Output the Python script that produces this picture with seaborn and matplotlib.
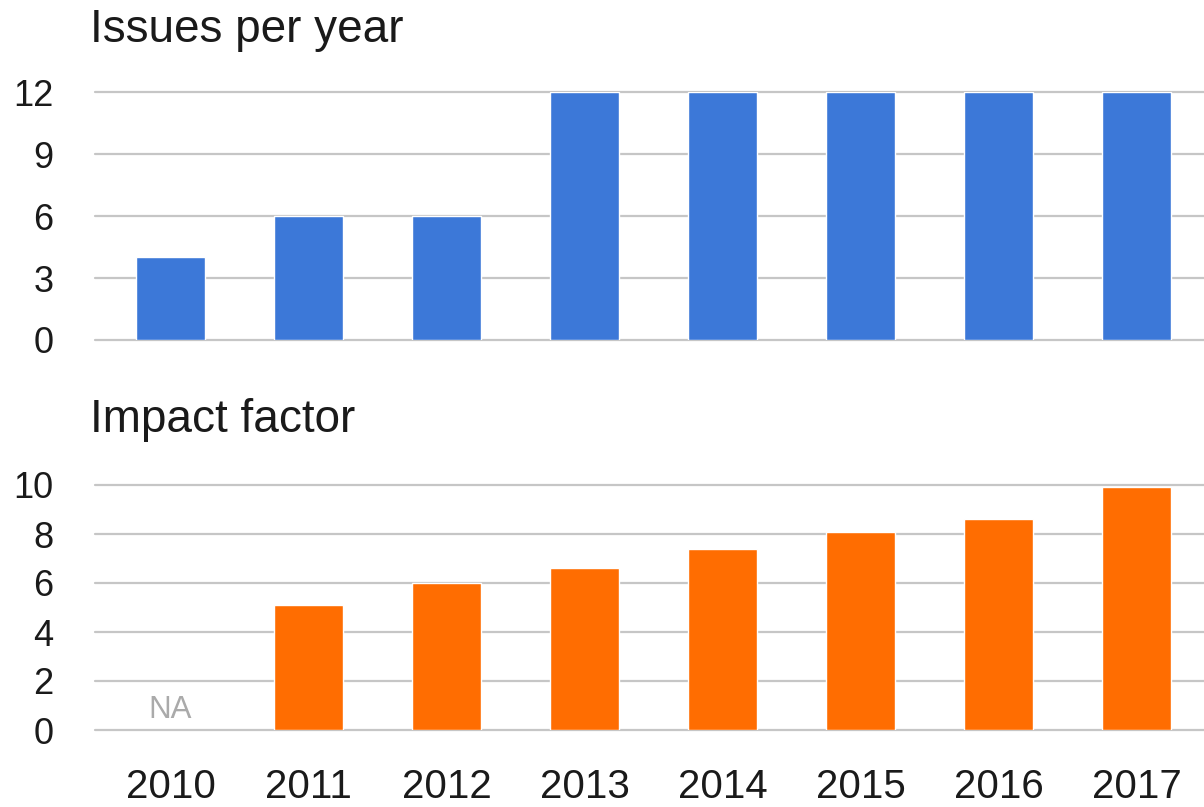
import numpy as np
import pandas as pd
import matplotlib
matplotlib.use("Agg")
import matplotlib.pyplot as plt
import seaborn as sns

years = ["2010", "2011", "2012", "2013", "2014", "2015", "2016", "2017"]
issues = [4, 6, 6, 12, 12, 12, 12, 12]
impact = [np.nan, 5.1, 6.0, 6.6, 7.4, 8.1, 8.6, 9.9]
issues_ticks = [0, 3, 6, 9, 12]
impact_ticks = [0, 2, 4, 6, 8, 10]

sns.set_theme(style="white")
plt.rcParams["font.family"] = ["Liberation Sans", "DejaVu Sans"]

BLUE = "#3c78d8"
ORANGE = "#ff6d01"
GRID = "#c6c6c6"
TEXT = "#1a1a1a"

fig = plt.figure(figsize=(12.04, 8.07), dpi=100)
W, H = 1204, 807
left = 95 / W
ax_top = fig.add_axes([left, 1 - 340 / H, 1 - left, (340 - 92) / H])
ax_bot = fig.add_axes([left, 1 - 730 / H, 1 - left, (730 - 485) / H])

df_issues = pd.DataFrame({"year": years, "value": issues})
df_impact = pd.DataFrame({"year": years, "value": impact})

sns.barplot(data=df_issues, x="year", y="value", order=years, color=BLUE,
            saturation=1, width=0.5, ax=ax_top, zorder=3)
sns.barplot(data=df_impact, x="year", y="value", order=years, color=ORANGE,
            saturation=1, width=0.5, ax=ax_bot, zorder=3)

xmin = -0.547
xmax = (W - 170.5) / 138
for ax, ticks in ((ax_top, issues_ticks), (ax_bot, impact_ticks)):
    ax.set_xlim(xmin, xmax)
    ax.set_ylim(ticks[0], ticks[-1])
    ax.set_yticks(ticks)
    ax.set_yticklabels([str(t) for t in ticks], fontsize=26, color=TEXT)
    for t in ticks:
        ax.axhline(t, color=GRID, lw=1.6, zorder=1, clip_on=False)
    ax.set_xlabel("")
    ax.set_ylabel("")
    ax.tick_params(axis="y", length=0, pad=30)
    for s in ax.spines.values():
        s.set_visible(False)
    ax.set_facecolor("none")

ax_top.set_xticks([])
ax_bot.set_xticks(range(len(years)))
ax_bot.set_xticklabels(years, fontsize=29, color=TEXT)
ax_bot.tick_params(axis="x", length=0, pad=27)

# Missing value marker for years without an impact factor
for i, v in enumerate(impact):
    if np.isnan(v):
        ax_bot.text(i, 0.49, "NA", ha="center", va="baseline", fontsize=22.5,
                    color="#aaaaaa", zorder=4)

fig.text(90 / W, 1 - 42 / H, "Issues per year", fontsize=33, ha="left",
         va="baseline", color=TEXT)
fig.text(90 / W, 1 - 432 / H, "Impact factor", fontsize=33, ha="left",
         va="baseline", color=TEXT)

fig.savefig("out.png", dpi=100, facecolor="white")
